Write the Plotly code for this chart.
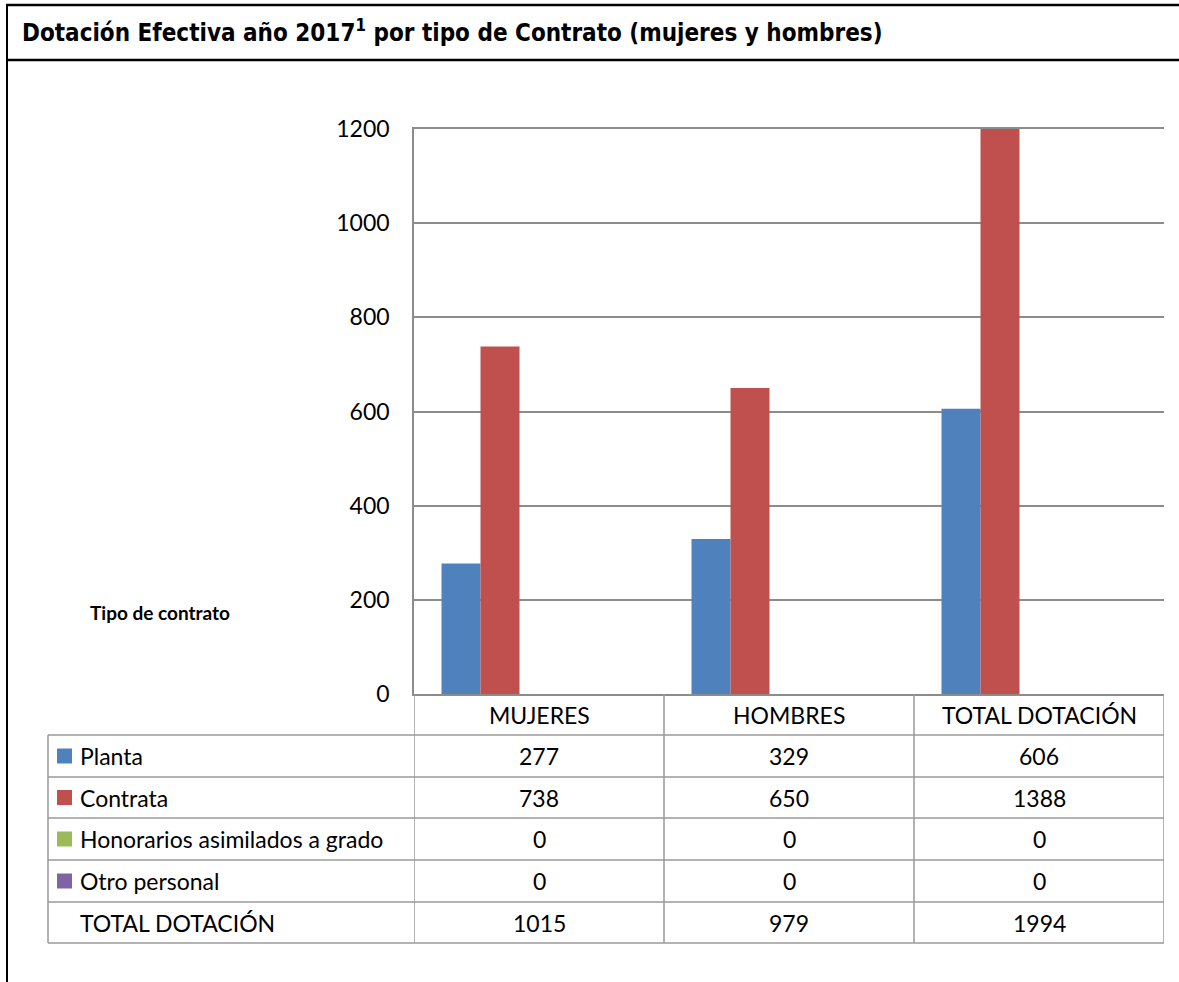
import plotly.graph_objects as go

categories = ["MUJERES", "HOMBRES", "TOTAL DOTACIÓN"]
series_names = ["Planta", "Contrata", "Honorarios asimilados a grado", "Otro personal"]
planta = [277, 329, 606]
contrata = [738, 650, 1388]
honorarios = [0, 0, 0]
otro = [0, 0, 0]
total = [1015, 979, 1994]
colors = ["#4F81BD", "#C0504D", "#9BBB59", "#8064A2"]
y_ticks = [0, 200, 400, 600, 800, 1000, 1200]

W, H = 1179, 982
L, R, T, B = 414, 1164, 129, 694


def px(xp):
    return (xp - L) / (R - L)


def py(yp):
    return (B - yp) / (B - T)


FONT = "Lato, Calibri, Carlito, sans-serif"
GRID = "#8c8c8c"
TAB = "#9a9a9a"
FS = 23

fig = go.Figure()
series_vals = [planta, contrata, honorarios, otro]
for name, vals, col in zip(series_names, series_vals, colors):
    fig.add_trace(go.Bar(x=categories, y=vals, name=name, marker_color=col,
                         marker_line_width=0, showlegend=False))
fig.add_trace(go.Bar(x=categories, y=total, name="TOTAL DOTACIÓN",
                     marker_color="rgba(0,0,0,0)", marker_line_width=0,
                     showlegend=False, hoverinfo="skip"))

shapes = []
# outer frame
shapes.append(dict(type="line", xref="paper", yref="paper", x0=px(7), x1=px(7), y0=py(4), y1=py(990),
                   line=dict(color="black", width=2)))
shapes.append(dict(type="line", xref="paper", yref="paper", x0=px(6), x1=px(1185), y0=py(5), y1=py(5),
                   line=dict(color="black", width=2.5)))
shapes.append(dict(type="line", xref="paper", yref="paper", x0=px(6), x1=px(1185), y0=py(60), y1=py(60),
                   line=dict(color="black", width=2.5)))

row_lines = [735, 777, 818, 860, 902, 943]
for yl in row_lines:
    shapes.append(dict(type="line", xref="paper", yref="paper", x0=px(48), x1=px(1164), y0=py(yl), y1=py(yl),
                       line=dict(color=TAB, width=1.5)))
shapes.append(dict(type="line", xref="paper", yref="paper", x0=px(48), x1=px(48), y0=py(735), y1=py(943),
                   line=dict(color=TAB, width=1.5)))
for xi in [-0.5, 0.5, 1.5, 2.5]:
    shapes.append(dict(type="line", xref="x", yref="paper", x0=xi, x1=xi, y0=py(694), y1=py(943),
                       line=dict(color=TAB, width=1.5)))

annotations = []
annotations.append(dict(xref="paper", yref="paper", x=px(20), y=py(31), xanchor="left", yanchor="middle",
                        text="Dotación Efectiva año 2017<sup>1</sup> por tipo de Contrato (mujeres y hombres)",
                        showarrow=False,
                        font=dict(family="DejaVu Sans Condensed, DejaVu Sans, sans-serif",
                                  size=24, color="black", weight="bold")))
annotations.append(dict(xref="paper", yref="paper", x=px(88), y=py(612), xanchor="left", yanchor="middle",
                        text="<b>Tipo de contrato</b>", showarrow=False,
                        font=dict(family=FONT, size=19, color="black")))

header_c = (694 + 735) / 2
for c in categories:
    annotations.append(dict(xref="x", yref="paper", x=c, y=py(header_c), xanchor="center", yanchor="middle",
                            text=c, showarrow=False, font=dict(family=FONT, size=FS, color="black")))

row_labels = series_names + ["TOTAL DOTACIÓN"]
row_vals = series_vals + [total]
for i, (lab, vals) in enumerate(zip(row_labels, row_vals)):
    yc = (row_lines[i] + row_lines[i + 1]) / 2
    if i < len(colors):
        shapes.append(dict(type="rect", xref="paper", yref="paper", x0=px(57), x1=px(72),
                           y0=py(yc - 7.5), y1=py(yc + 7.5), fillcolor=colors[i], line=dict(width=0)))
    annotations.append(dict(xref="paper", yref="paper", x=px(78), y=py(yc), xanchor="left", yanchor="middle",
                            text=lab, showarrow=False, font=dict(family=FONT, size=FS, color="black")))
    for c, v in zip(categories, vals):
        annotations.append(dict(xref="x", yref="paper", x=c, y=py(yc), xanchor="center", yanchor="middle",
                                text=str(v), showarrow=False, font=dict(family=FONT, size=FS, color="black")))

fig.update_layout(
    width=W, height=H,
    margin=dict(l=L, r=W - R, t=T, b=H - B, pad=0),
    paper_bgcolor="white", plot_bgcolor="white",
    barmode="group", bargap=0.22, bargroupgap=0,
    font=dict(family=FONT, size=FS, color="black"),
    shapes=shapes, annotations=annotations,
    xaxis=dict(type="category", range=[-0.5, 2.5], showticklabels=False, showline=True, mirror=True,
               linecolor=GRID, linewidth=1.5, showgrid=False, zeroline=False, fixedrange=True),
    yaxis=dict(range=[0, 1200], tickvals=y_ticks, showgrid=True, gridcolor=GRID, gridwidth=1.5,
               showline=True, linecolor=GRID, linewidth=1.5, zeroline=False, ticks="",
               ticklabelstandoff=18, tickfont=dict(family=FONT, size=FS, color="black"), fixedrange=True),
)

fig.write_html("out.html")
